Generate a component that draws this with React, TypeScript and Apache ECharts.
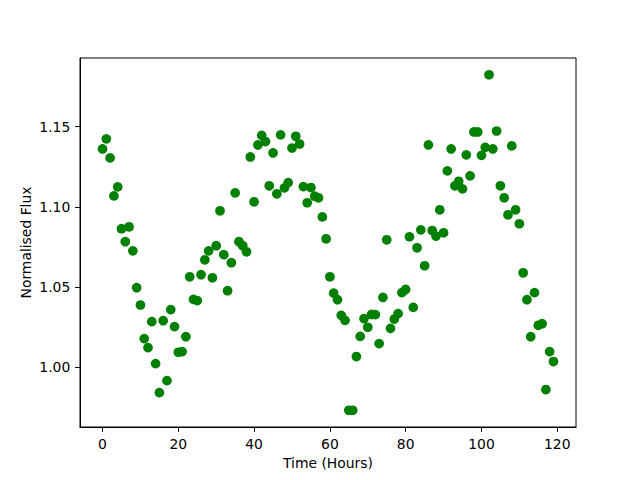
import React, { useEffect, useRef } from "react";
import * as echarts from "echarts";

const hours: number[] = Array.from({ length: 120 }, (_, i) => i);

const flux: number[] = [
  1.1361, 1.1424, 1.1305, 1.1068, 1.1124, 1.0863, 1.0782, 1.0875, 1.0725, 1.0495,
  1.0387, 1.0177, 1.0121, 1.0283, 1.0021, 0.984, 1.0289, 0.9915, 1.0358, 1.0252,
  1.0092, 1.0096, 1.0189, 1.0563, 1.0422, 1.0414, 1.0576, 1.0669, 1.0725, 1.0557,
  1.0757, 1.0975, 1.0701, 1.0476, 1.0651, 1.1087, 1.0782, 1.0757, 1.0719, 1.1311,
  1.1031, 1.1386, 1.1446, 1.1407, 1.1131, 1.1336, 1.1081, 1.1449, 1.1118, 1.1151,
  1.1367, 1.144, 1.1392, 1.1126, 1.1025, 1.112, 1.1066, 1.1056, 1.0937, 1.08,
  1.0563, 1.0461, 1.042, 1.0322, 1.0291, 0.973, 0.973, 1.0065, 1.0191, 1.0302,
  1.0248, 1.0328, 1.0327, 1.0146, 1.0434, 1.0794, 1.0241, 1.0299, 1.0333, 1.0464,
  1.0484, 1.0813, 1.0372, 1.0744, 1.0856, 1.0632, 1.1386, 1.0852, 1.0817, 1.0981,
  1.0838, 1.1224, 1.1361, 1.1131, 1.1159, 1.1112, 1.1324, 1.1193, 1.1467, 1.1467,
  1.1321, 1.1371, 1.1824, 1.1361, 1.1473, 1.1131, 1.1056, 1.095, 1.138, 1.0981,
  1.0894, 1.0588, 1.042, 1.0189, 1.0464, 1.026, 1.027, 0.9859, 1.0096, 1.0034,
];

const xTicks: number[] = [0, 20, 40, 60, 80, 100, 120];
const yTicks: number[] = [1.0, 1.05, 1.1, 1.15];

export default function App() {
  const ref = useRef<HTMLDivElement>(null);
  useEffect(() => {
    if (!ref.current) return;
    const chart = echarts.init(ref.current, null, { renderer: "svg" });
    const font = "DejaVu Sans";
    const fs = 13.9;
    const xMin = -5.95;
    const xMax = 124.95;
    const yMinData = Math.min(...flux);
    const yMaxData = Math.max(...flux);
    const pad = (yMaxData - yMinData) * 0.05;
    chart.setOption({
      animation: false,
      backgroundColor: "#fff",
      textStyle: { fontFamily: font },
      grid: {
        left: 80,
        right: 64,
        top: 58,
        bottom: 53,
        show: true,
        borderColor: "#000",
        borderWidth: 1,
        containLabel: false,
      },
      xAxis: {
        type: "value",
        min: xMin,
        max: xMax,
        name: "Time (Hours)",
        nameLocation: "middle",
        nameGap: 29,
        nameMoveOverlap: false,
        nameTextStyle: { fontFamily: font, fontSize: fs, color: "#000" },
        splitLine: { show: false },
        axisLine: { show: true, onZero: false, lineStyle: { color: "#000", width: 1 } },
        axisTick: {
          show: true,
          length: 4.9,
          lineStyle: { color: "#000", width: 1 },
          customValues: xTicks,
        },
        axisLabel: {
          margin: 9.7,
          fontFamily: font,
          fontSize: fs,
          color: "#000",
          customValues: xTicks,
          formatter: (v: number) => String(Math.round(v)),
        },
      },
      yAxis: {
        type: "value",
        min: yMinData - pad,
        max: yMaxData + pad,
        name: "Normalised Flux",
        nameLocation: "middle",
        nameGap: 47,
        nameMoveOverlap: false,
        nameTextStyle: { fontFamily: font, fontSize: fs, color: "#000" },
        splitLine: { show: false },
        axisLine: { show: true, onZero: false, lineStyle: { color: "#000", width: 1 } },
        axisTick: {
          show: true,
          length: 4.9,
          lineStyle: { color: "#000", width: 1 },
          customValues: yTicks,
        },
        axisLabel: {
          margin: 9.7,
          fontFamily: font,
          fontSize: fs,
          color: "#000",
          customValues: yTicks,
          formatter: (v: number) => v.toFixed(2),
        },
      },
      series: [
        {
          type: "scatter",
          data: hours.map((h, i) => [h, flux[i]]),
          symbol: "circle",
          symbolSize: 9.7,
          itemStyle: { color: "#008000", opacity: 1 },
          emphasis: { disabled: true },
        },
      ],
    });
    return () => chart.dispose();
  }, []);
  return (
    <div
      ref={ref}
      style={{ position: "fixed", left: 0, top: 0, width: 640, height: 480, background: "#fff" }}
    />
  );
}
